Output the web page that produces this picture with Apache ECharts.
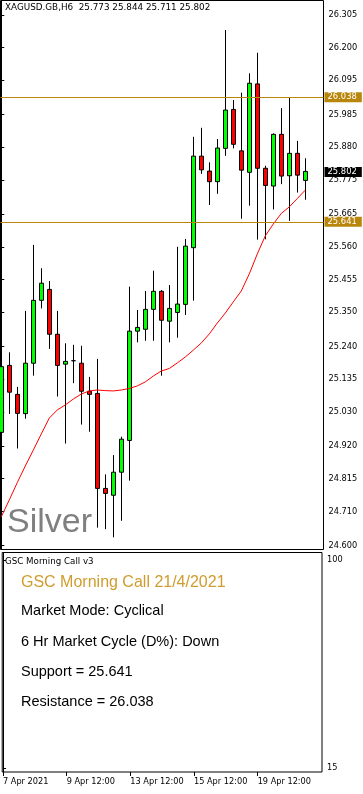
<!DOCTYPE html>
<html><head><meta charset="utf-8">
<script src="https://cdn.jsdelivr.net/npm/echarts@6/dist/echarts.min.js"></script>
<style>html,body{margin:0;padding:0;background:#fff}#c{width:363px;height:794px}</style>
</head><body><div id="c"></div>
<script>
// ---- data (XAGUSD.GB, H6) ----
const categories = ['7 Apr 12:00','7 Apr 18:00','8 Apr 00:00','8 Apr 06:00','8 Apr 12:00','8 Apr 18:00','9 Apr 00:00','9 Apr 06:00',
  '9 Apr 12:00','9 Apr 18:00','12 Apr 00:00','12 Apr 06:00','12 Apr 12:00','12 Apr 18:00','13 Apr 00:00','13 Apr 06:00',
  '13 Apr 12:00','13 Apr 18:00','14 Apr 00:00','14 Apr 06:00','14 Apr 12:00','14 Apr 18:00','15 Apr 00:00','15 Apr 06:00',
  '15 Apr 12:00','15 Apr 18:00','16 Apr 00:00','16 Apr 06:00','16 Apr 12:00','16 Apr 18:00','19 Apr 00:00','19 Apr 06:00',
  '19 Apr 12:00','19 Apr 18:00','20 Apr 00:00','20 Apr 06:00','20 Apr 12:00','20 Apr 18:00','21 Apr 00:00'];
const opens  = [24.964,25.179,25.086,25.024,25.186,25.388,25.423,25.279,25.183,25.194,25.186,25.096,25.089,24.784,24.762,24.836,
  24.938,25.289,25.295,25.359,25.417,25.321,25.349,25.375,25.557,25.851,25.803,25.769,25.876,26.001,25.868,25.799,
  26.083,25.812,25.755,25.921,25.788,25.860,25.773];
const closes = [25.175,25.093,25.025,25.186,25.388,25.443,25.279,25.179,25.192,25.194,25.096,25.086,24.784,24.768,24.836,24.942,
  25.289,25.301,25.359,25.417,25.324,25.362,25.376,25.562,25.851,25.807,25.769,25.877,25.999,25.889,25.806,26.085,
  25.812,25.757,25.921,25.787,25.860,25.790,25.802];
const lows   = [24.800,25.023,24.912,25.008,25.146,25.362,25.232,25.079,24.928,25.122,24.989,24.966,24.658,24.653,24.627,24.680,
  24.809,25.253,25.258,25.258,25.146,25.253,25.268,25.341,25.387,25.794,25.694,25.730,25.852,25.876,25.650,25.692,
  25.583,25.584,25.680,25.761,25.643,25.734,25.711];
const highs  = [25.202,25.221,25.110,25.354,25.566,25.491,25.450,25.354,25.250,25.245,25.242,25.142,25.200,24.829,24.891,24.950,
  25.432,25.357,25.418,25.483,25.421,25.437,25.560,25.585,25.913,25.942,25.831,25.906,26.256,26.031,26.055,26.117,
  26.183,25.820,25.924,26.005,26.039,25.900,25.844];
const maValues = [24.693,24.747,24.803,24.856,24.907,24.959,25.010,25.036,25.052,25.071,25.087,25.097,25.100,25.098,25.097,25.100,
  25.105,25.113,25.126,25.145,25.161,25.169,25.187,25.206,25.228,25.251,25.280,25.315,25.347,25.383,25.418,25.473,
  25.537,25.595,25.633,25.667,25.688,25.715,25.742];
const yTickLabels = ['24.600','24.710','24.815','24.920','25.030','25.135','25.240','25.350','25.455','25.560','25.665','25.775','25.880','25.985','26.095','26.200','26.305'];
const xTickIndex  = [0, 8, 16, 24, 32];
const xTickLabels = ['7 Apr 2021','9 Apr 12:00','13 Apr 12:00','15 Apr 12:00','19 Apr 12:00'];
const support = '25.641';
const resistance = '26.038';
const lastPrice = '25.802';
const header = 'XAGUSD.GB,H6  25.773 25.844 25.711 25.802';
const lowerTickLabels = ['15','100'];
const panelTitle = 'GSC Morning Call v3';
const panelLines = ['GSC Morning Call 21/4/2021','Market Mode: Cyclical','6 Hr Market Cycle (D%): Down','Support = 25.641','Resistance = 26.038'];

// ---- chart ----
const FONT = 'DejaVu Sans';
const SANS = 'Liberation Sans';
const GOLD = '#B8860B';
const yTickValues = yTickLabels.map(Number);
const lowerTickValues = lowerTickLabels.map(Number);
const candleData = opens.map((o, i) => [i, o, closes[i], lows[i], highs[i]]);
const maData = maValues.map((v, i) => [i, v]);

const chart = echarts.init(document.getElementById('c'), null, {renderer: 'canvas'});
const lineYs = [582.3, 611.3, 641.5, 671.7, 701.6];
const lineSizes = [16, 14.5, 14.5, 14.5, 14.5];
const lineColors = ['#CF9C2E', '#000', '#000', '#000', '#000'];

const option = {
  animation: false,
  backgroundColor: '#fff',
  grid: [
    {left: 0.5, top: 0.5, width: 323, height: 549, show: true, borderColor: '#000', borderWidth: 1},
    {left: 0.5, top: 552.5, width: 321.5, height: 219.5, show: true, borderColor: '#000', borderWidth: 1}
  ],
  xAxis: [
    {gridIndex: 0, type: 'value', min: -0.1, max: 40.275, show: false},
    {gridIndex: 1, type: 'value', min: -0.1, max: 40.0875,
      axisLine: {show: false}, splitLine: {show: false},
      axisTick: {show: true, length: 4, customValues: xTickIndex, lineStyle: {color: '#000'}},
      axisLabel: {customValues: xTickIndex, formatter: v => xTickLabels[xTickIndex.indexOf(v)],
        align: 'left', margin: 6, fontFamily: FONT, fontSize: 8.2, color: '#000'}}
  ],
  yAxis: [
    {gridIndex: 0, type: 'value', position: 'right', min: 24.5878, max: 26.3508,
      axisLine: {show: true, lineStyle: {color: '#000'}}, splitLine: {show: false},
      axisTick: {show: true, length: 3, customValues: yTickValues, lineStyle: {color: '#000'}},
      axisLabel: {customValues: yTickValues, formatter: v => v.toFixed(3), margin: 5,
        fontFamily: FONT, fontSize: 8.2, color: '#000', align: 'left'}},
    {gridIndex: 1, type: 'value', position: 'right', min: 13.37, max: 103.06,
      axisLine: {show: true, lineStyle: {color: '#000'}}, splitLine: {show: false},
      axisTick: {show: true, length: 3, customValues: lowerTickValues, lineStyle: {color: '#000'}},
      axisLabel: {customValues: lowerTickValues, formatter: v => String(v), margin: 5,
        fontFamily: FONT, fontSize: 8.2, color: '#000', align: 'left'}}
  ],
  series: [
    {type: 'candlestick', xAxisIndex: 0, yAxisIndex: 0, data: candleData,
      encode: {x: 0, y: [1, 2, 3, 4]}, barWidth: 5, clip: true,
      itemStyle: {color: '#00FF00', color0: '#FF0000', borderColor: '#000', borderColor0: '#000',
        borderColorDoji: '#000', borderWidth: 1}},
    {type: 'line', xAxisIndex: 0, yAxisIndex: 0, data: maData, showSymbol: false, symbol: 'none',
      clip: false, lineStyle: {color: '#FF0000', width: 1}, z: 3,
      markLine: {silent: true, symbol: 'none', animation: false,
        label: {show: true, position: 'end', distance: 1, formatter: p => p.name,
          fontFamily: FONT, fontSize: 8.4, color: '#fff', backgroundColor: GOLD, padding: [1, 5, 1, 3]},
        lineStyle: {color: GOLD, width: 1, type: 'solid'},
        data: [
          {name: resistance, yAxis: Number(resistance)},
          {name: support, yAxis: Number(support)},
          {name: lastPrice, yAxis: Number(lastPrice), lineStyle: {color: 'rgba(0,0,0,0)'}, label: {backgroundColor: '#000', color: '#fff'}}
        ]}}
  ],
  graphic: [
    {type: 'text', x: 5, y: 7.5, style: {text: header, fontFamily: FONT, fontSize: 8.8, fill: '#000', verticalAlign: 'middle'}},
    {type: 'text', x: 7, y: 522.5, z: 1, style: {text: 'Silver', fontFamily: SANS, fontSize: 34, fill: '#808080', verticalAlign: 'middle'}},
    {type: 'text', x: 5, y: 561.7, style: {text: panelTitle, fontFamily: FONT, fontSize: 8.7, fill: '#000', verticalAlign: 'middle'}}
  ].concat(panelLines.map((t, i) => ({type: 'text', x: 21, y: lineYs[i],
    style: {text: t, fontFamily: SANS, fontSize: lineSizes[i], fill: lineColors[i], verticalAlign: 'middle'}})))
};
chart.setOption(option);
</script></body></html>
